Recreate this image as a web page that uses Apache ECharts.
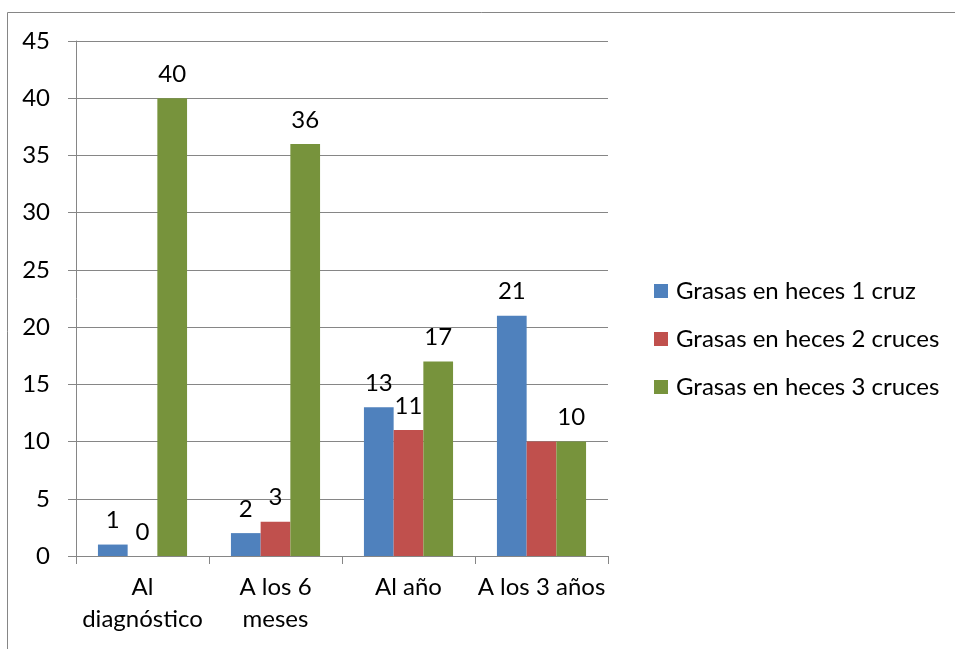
<!DOCTYPE html>
<html>
<head>
<meta charset="utf-8">
<script src="https://cdn.jsdelivr.net/npm/echarts@6/dist/echarts.min.js"></script>
<style>
  html, body { margin: 0; padding: 0; background: #fff; }
  #chart { width: 955px; height: 649px; }
</style>
</head>
<body>
<div id="chart"></div>
<script>
var categories = ['Al\ndiagnóstico', 'A los 6\nmeses', 'Al año', 'A los 3 años'];
var seriesNames = ['Grasas en heces 1 cruz', 'Grasas en heces 2 cruces', 'Grasas en heces 3 cruces'];
var cruz1 = [1, 2, 13, 21];
var cruces2 = [0, 3, 11, 10];
var cruces3 = [40, 36, 17, 10];
var yTicks = { min: 0, max: 45, interval: 5 };
// the reference shows no label on the red bar of the last group
var cruces2NoLabel = [3];

var colors = ['#4F81BD', '#C0504D', '#77933C'];
var font = 'Lato, "Open Sans", sans-serif';

function makeSeries(name, values, color, noLabel) {
    noLabel = noLabel || [];
    return {
        name: name,
        type: 'bar',
        data: values.map(function (v, i) {
            return noLabel.indexOf(i) >= 0 ? { value: v, label: { show: false } } : v;
        }),
        barGap: '0%',
        barCategoryGap: '33%',
        itemStyle: { color: color },
        label: {
            show: true,
            position: 'top',
            distance: 12,
            color: '#000',
            fontFamily: font,
            fontSize: 24
        }
    };
}

var chart = echarts.init(document.getElementById('chart'));
chart.setOption({
    animation: false,
    textStyle: { fontFamily: font },
    graphic: [{
        type: 'rect',
        shape: { x: 7.5, y: 12.5, width: 960, height: 660 },
        style: { fill: 'none', stroke: '#868686', lineWidth: 1 }
    }],
    grid: { left: 76, right: 347, top: 41, bottom: 93 },
    legend: {
        orient: 'vertical',
        left: 649,
        top: 274,
        itemWidth: 14,
        itemHeight: 14,
        itemGap: 24,
        icon: 'rect',
        textStyle: { color: '#000', fontSize: 24, lineHeight: 24, fontFamily: font, padding: [0, 0, 0, 3] },
        data: seriesNames
    },
    xAxis: {
        type: 'category',
        data: categories,
        axisLine: { lineStyle: { color: '#868686' } },
        axisTick: { show: true, length: 8, lineStyle: { color: '#868686' } },
        axisLabel: { color: '#000', fontSize: 24, fontFamily: font, lineHeight: 32, margin: 15, interval: 0 }
    },
    yAxis: {
        type: 'value',
        min: yTicks.min,
        max: yTicks.max,
        interval: yTicks.interval,
        axisLine: { show: true, lineStyle: { color: '#868686' } },
        axisTick: { show: true, length: 8, lineStyle: { color: '#868686' } },
        splitLine: { lineStyle: { color: '#868686' } },
        axisLabel: { color: '#000', fontSize: 24, fontFamily: font, margin: 26 }
    },
    series: [
        makeSeries(seriesNames[0], cruz1, colors[0]),
        makeSeries(seriesNames[1], cruces2, colors[1], cruces2NoLabel),
        makeSeries(seriesNames[2], cruces3, colors[2])
    ]
});
</script>
</body>
</html>
